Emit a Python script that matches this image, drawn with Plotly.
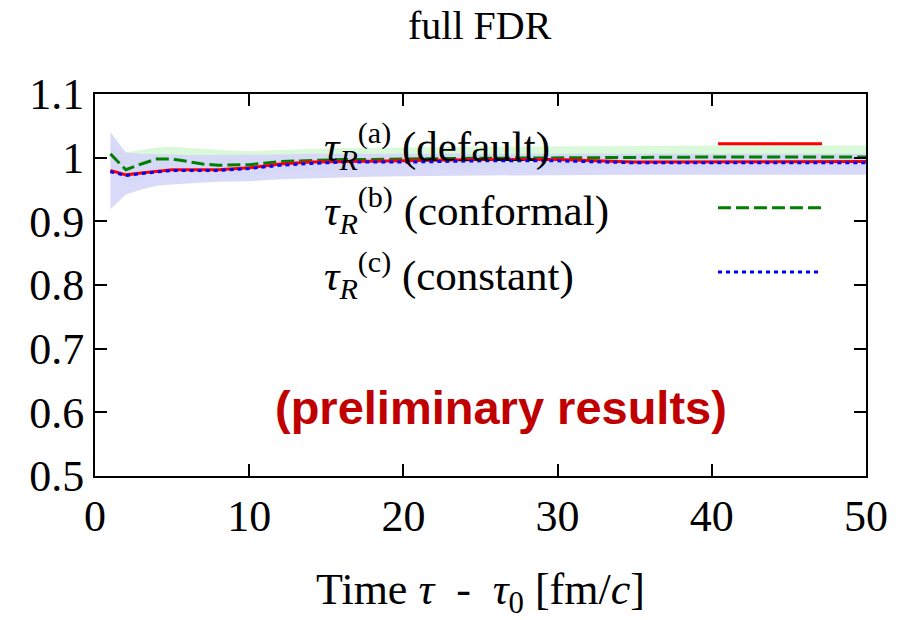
import plotly.graph_objects as go

# ---- data ----
t = [1, 2, 3, 4, 5, 6, 7, 8, 10, 12, 14, 16, 18, 20, 25, 30, 35, 40, 45, 50]
default_vals = [0.980, 0.973, 0.976, 0.979, 0.981, 0.981, 0.981, 0.981, 0.984, 0.990,
                0.993, 0.994, 0.995, 0.995, 0.997, 0.997, 0.993, 0.993, 0.994, 0.994]
conformal_vals = [1.006, 0.981, 0.990, 0.998, 0.998, 0.994, 0.990, 0.988, 0.989, 0.994,
                  0.996, 0.997, 0.997, 0.998, 0.999, 1.000, 1.000, 1.001, 1.001, 1.001]
constant_vals = [0.978, 0.972, 0.975, 0.978, 0.980, 0.980, 0.980, 0.980, 0.983, 0.988,
                 0.991, 0.993, 0.993, 0.993, 0.995, 0.995, 0.992, 0.992, 0.992, 0.992]
conformal_hi = [1.020, 1.008, 1.012, 1.016, 1.017, 1.016, 1.014, 1.012, 1.010, 1.012,
                1.014, 1.015, 1.015, 1.016, 1.017, 1.018, 1.018, 1.019, 1.019, 1.019]
conformal_lo = [0.990, 0.960, 0.968, 0.980, 0.980, 0.975, 0.970, 0.970, 0.972, 0.978,
                0.980, 0.981, 0.981, 0.982, 0.983, 0.984, 0.984, 0.984, 0.984, 0.984]
constant_hi = [1.040, 1.008, 1.006, 1.005, 1.005, 1.004, 1.004, 1.004, 1.004, 1.005,
               1.006, 1.006, 1.006, 1.006, 1.006, 1.006, 1.006, 1.006, 1.006, 1.006]
constant_lo = [0.919, 0.942, 0.950, 0.956, 0.958, 0.960, 0.961, 0.962, 0.963, 0.966,
               0.968, 0.969, 0.970, 0.971, 0.972, 0.973, 0.973, 0.973, 0.973, 0.973]

y_ticks = [0.5, 0.6, 0.7, 0.8, 0.9, 1.0, 1.1]
y_tick_text = ["0.5", "0.6", "0.7", "0.8", "0.9", "1", "1.1"]
x_ticks = [0, 10, 20, 30, 40, 50]

series_labels = [
    "<i>τ</i><sub><i>R</i></sub><sup>(a)</sup> (default)",
    "<i>τ</i><sub><i>R</i></sub><sup>(b)</sup> (conformal)",
    "<i>τ</i><sub><i>R</i></sub><sup>(c)</sup> (constant)",
]
series_colors = ["#ff0000", "#008000", "#0000ff"]
series_dash = ["solid", "13px,5px", "4px,4px"]

SERIF = "Liberation Serif, Times New Roman, serif"
LW = 3

fig = go.Figure()

# bands
fig.add_trace(go.Scatter(x=t, y=conformal_hi, mode="lines", line=dict(width=0),
                         showlegend=False, hoverinfo="skip"))
fig.add_trace(go.Scatter(x=t, y=conformal_lo, mode="lines", line=dict(width=0),
                         fill="tonexty", fillcolor="rgba(218,248,218,1)",
                         showlegend=False, hoverinfo="skip"))
fig.add_trace(go.Scatter(x=t, y=constant_hi, mode="lines", line=dict(width=0),
                         showlegend=False, hoverinfo="skip"))
fig.add_trace(go.Scatter(x=t, y=constant_lo, mode="lines", line=dict(width=0),
                         fill="tonexty", fillcolor="rgba(214,214,248,0.92)",
                         showlegend=False, hoverinfo="skip"))

# lines
for vals, c, d in zip([conformal_vals, default_vals, constant_vals],
                      [series_colors[1], series_colors[0], series_colors[2]],
                      [series_dash[1], series_dash[0], series_dash[2]]):
    fig.add_trace(go.Scatter(x=t, y=vals, mode="lines",
                             line=dict(color=c, width=LW, dash=d),
                             showlegend=False))

# manual gnuplot-style legend
leg_y = [0.870, 0.702, 0.534]
shapes = []
annotations = []
for lab, c, d, yy in zip(series_labels, series_colors, series_dash, leg_y):
    shapes.append(dict(type="line", xref="paper", yref="paper",
                       x0=0.808, x1=0.943, y0=yy, y1=yy,
                       line=dict(color=c, width=LW, dash=d)))
    annotations.append(dict(xref="paper", yref="paper", x=0.294, y=yy - 0.008,
                            xanchor="left", yanchor="middle", showarrow=False,
                            text=lab, font=dict(family=SERIF, size=43, color="black")))

annotations.append(dict(xref="paper", yref="paper", x=0.527, y=0.18,
                        xanchor="center", yanchor="middle", showarrow=False,
                        text="<b>(preliminary results)</b>",
                        font=dict(family="Liberation Sans, Arial, sans-serif",
                                  size=47, color="#c00000")))

axis_common = dict(showgrid=False, zeroline=False, showline=True, linecolor="black",
                   linewidth=2, mirror="ticks", ticks="inside", ticklen=12,
                   tickwidth=2, tickcolor="black",
                   tickfont=dict(family=SERIF, size=44, color="black"))

fig.update_layout(
    width=900, height=620,
    margin=dict(l=95, r=34, t=94, b=140),
    plot_bgcolor="white", paper_bgcolor="white",
    title=dict(text="full FDR", x=0.533, xanchor="center", y=0.96, yanchor="middle",
               font=dict(family=SERIF, size=40, color="black")),
    xaxis=dict(range=[0, 50], tickvals=x_ticks,
               title=dict(text="Time <i>τ</i>  -  <i>τ</i><sub>0</sub> [fm/<i>c</i>]",
                          font=dict(family=SERIF, size=44, color="black"), standoff=36),
               **axis_common),
    yaxis=dict(range=[0.5, 1.1], tickvals=y_ticks, ticktext=y_tick_text, **axis_common),
    shapes=shapes, annotations=annotations,
)

fig.write_html("out.html")
